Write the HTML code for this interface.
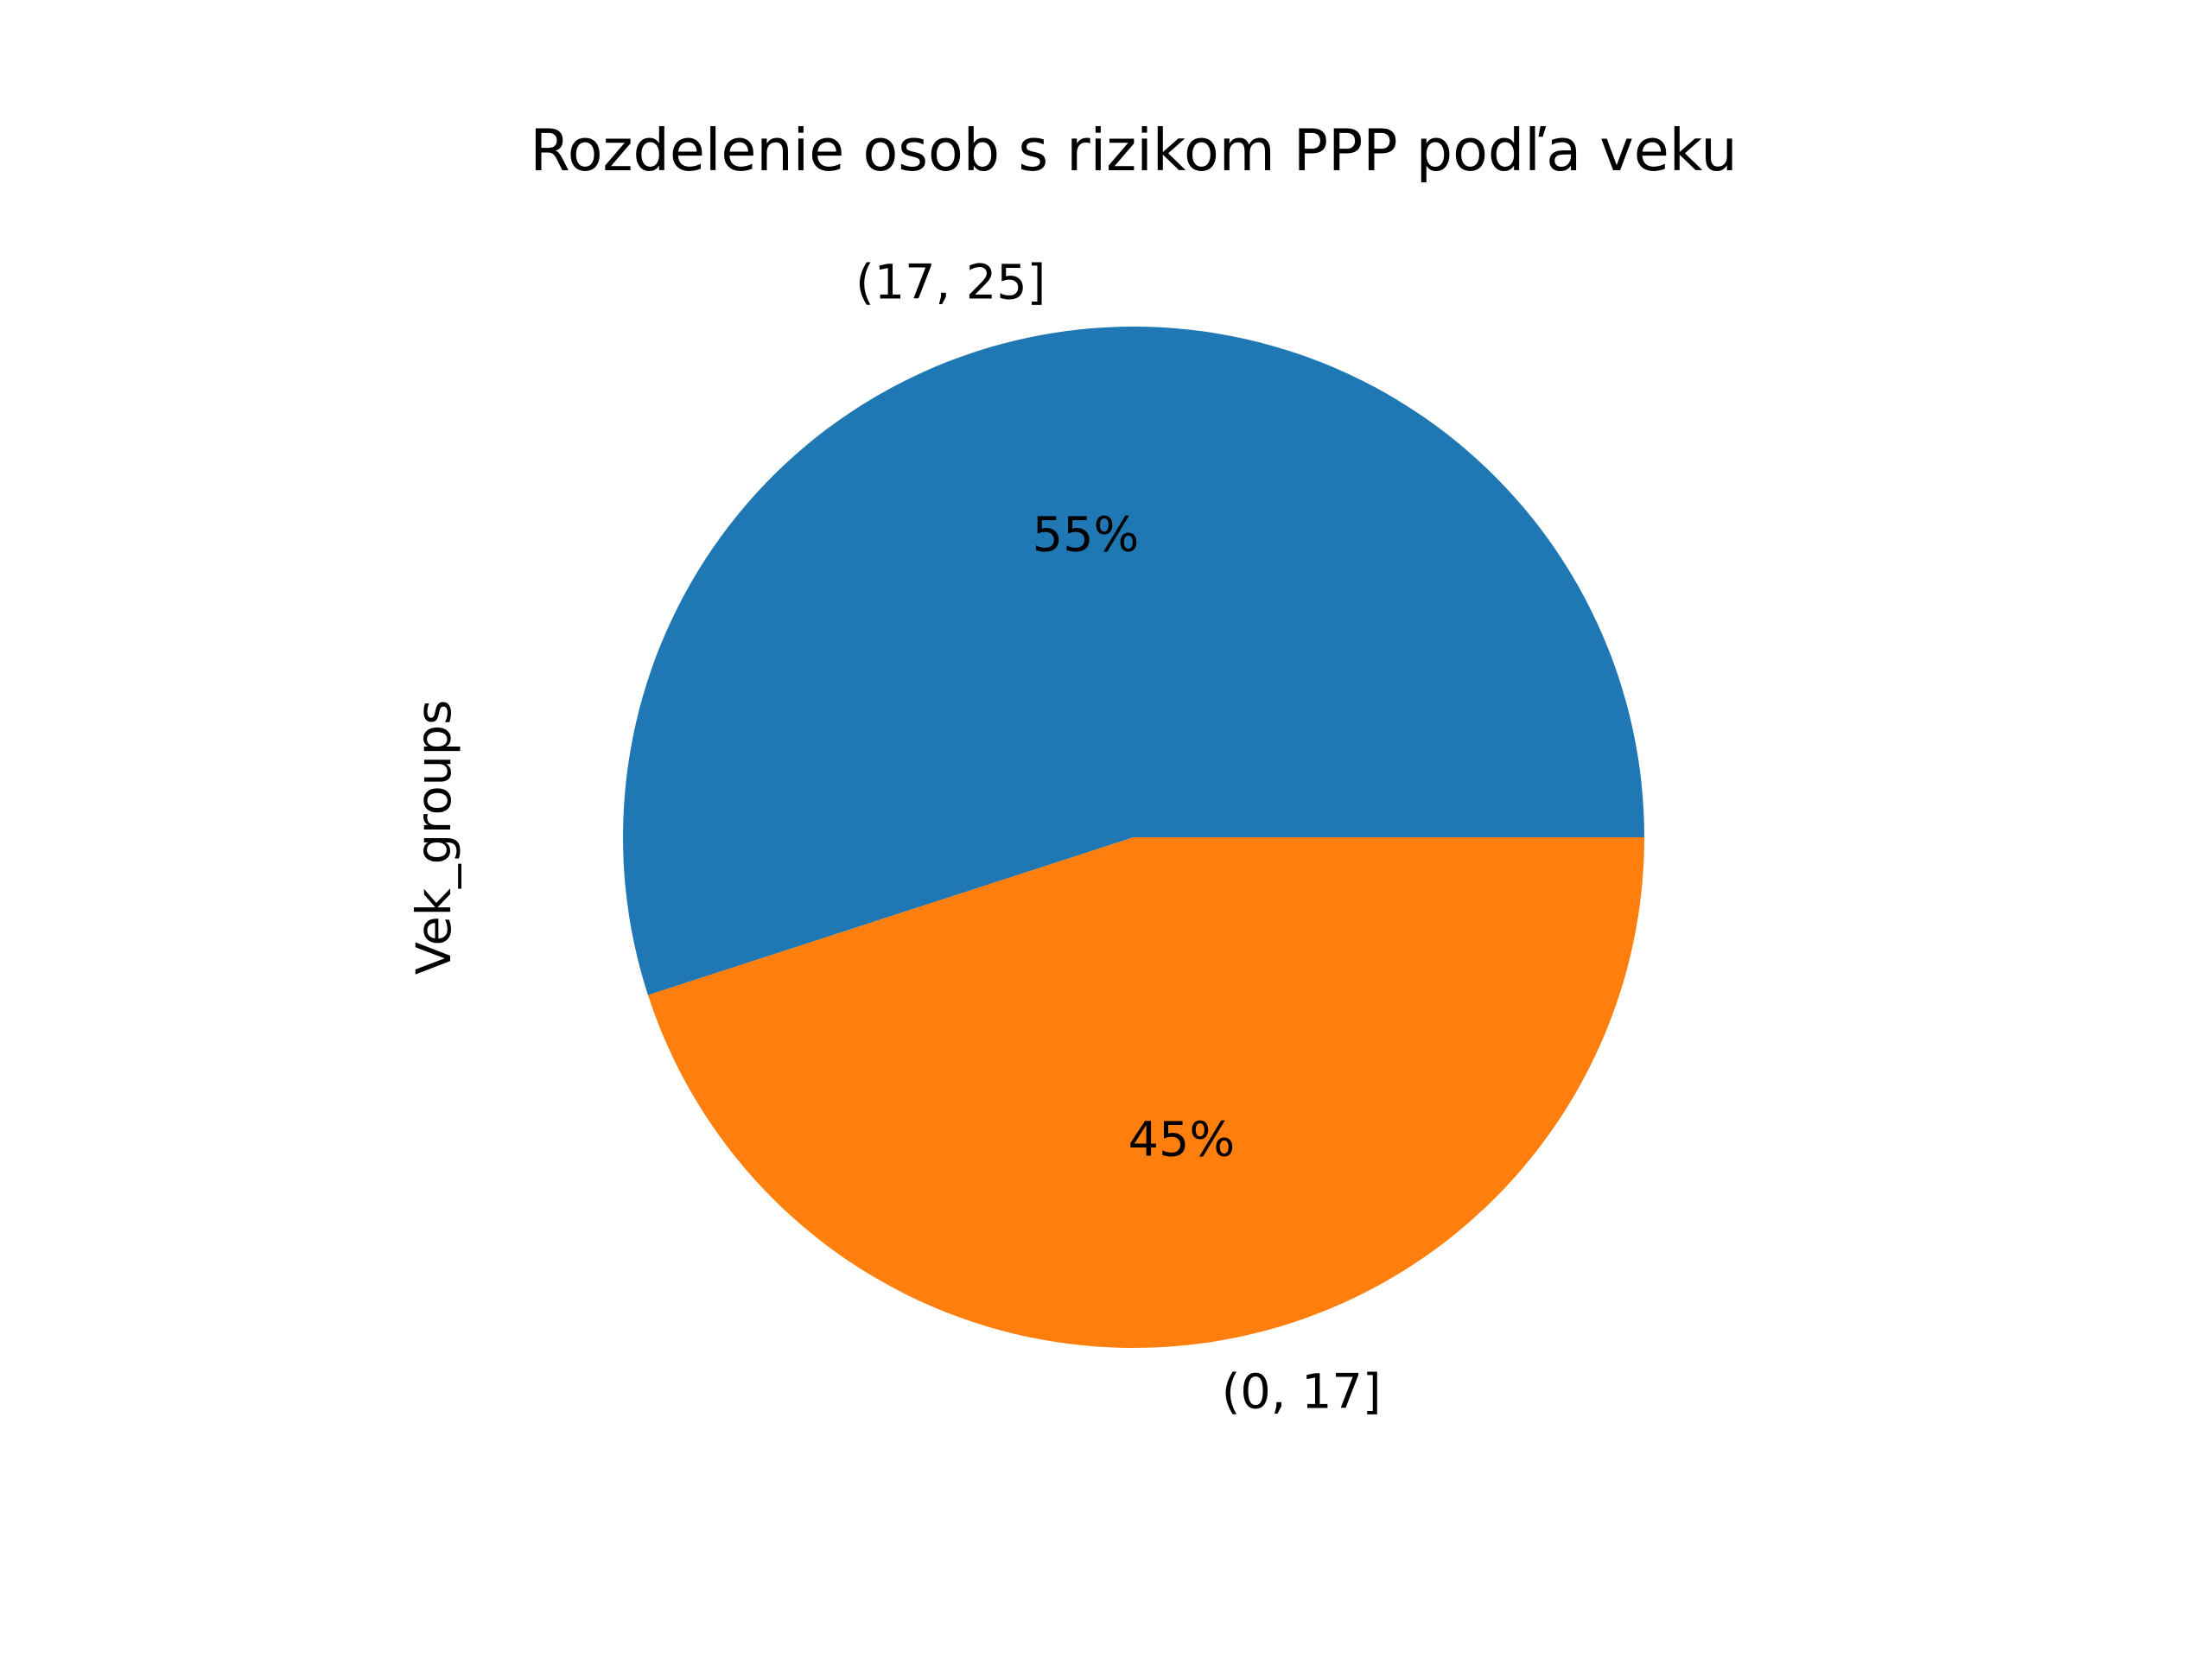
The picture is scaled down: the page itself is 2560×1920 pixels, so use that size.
<!DOCTYPE html>
<html><head><meta charset="utf-8"><style>
html,body{margin:0;padding:0;background:#fff;}
svg{display:block;}
text{font-family:"DejaVu Sans","Liberation Sans",sans-serif;fill:#000;}
</style></head><body>
<svg id="chart" width="2560" height="1920" viewBox="0 0 2560 1920">
<rect width="2560" height="1920" fill="#fff"/>
<text x="1312" y="197" font-size="66.7" text-anchor="middle">Rozdelenie osob s rizikom PPP podľa veku</text>
<text transform="translate(521,969) rotate(-90)" font-size="55.6" text-anchor="middle">Vek_groups</text>
<g id="slices"></g>
</svg>
<script>
const categories = ["(17, 25]", "(0, 17]"];
const values = [55, 45];
const pctLabels = ["55%", "45%"];
const colors = ["#1f77b4", "#ff7f0e"];

const cx = 1312, cy = 969, R = 591;
const total = values.reduce((a, b) => a + b, 0);
const g = document.getElementById('slices');
const ns = 'http://www.w3.org/2000/svg';
function pt(deg, r) { const a = deg * Math.PI / 180; return [cx + r * Math.cos(a), cy - r * Math.sin(a)]; }
let start = 0;
values.forEach((v, i) => {
  const sweep = v / total * 360;
  const end = start + sweep;
  const [x1, y1] = pt(start, R), [x2, y2] = pt(end, R);
  const p = document.createElementNS(ns, 'path');
  p.setAttribute('d', `M${cx},${cy} L${x1},${y1} A${R},${R} 0 ${sweep > 180 ? 1 : 0} 0 ${x2},${y2} Z`);
  p.setAttribute('fill', colors[i]);
  
  
  g.appendChild(p);
  const mid = start + sweep / 2;
  const [lx, ly] = pt(mid, R * 1.1);
  const t = document.createElementNS(ns, 'text');
  t.setAttribute('x', lx); t.setAttribute('y', ly);
  t.setAttribute('font-size', '55.6');
  t.setAttribute('dominant-baseline', 'central');
  t.setAttribute('text-anchor', lx < cx ? 'end' : 'start');
  t.textContent = categories[i];
  
  
  g.appendChild(t);
  const [px, py] = pt(mid, R * 0.6);
  const t2 = document.createElementNS(ns, 'text');
  t2.setAttribute('x', px); t2.setAttribute('y', py);
  t2.setAttribute('font-size', '55.6');
  t2.setAttribute('dominant-baseline', 'central');
  t2.setAttribute('text-anchor', 'middle');
  t2.textContent = pctLabels[i];
  
  
  g.appendChild(t2);
  start = end;
});
</script>
</body></html>
